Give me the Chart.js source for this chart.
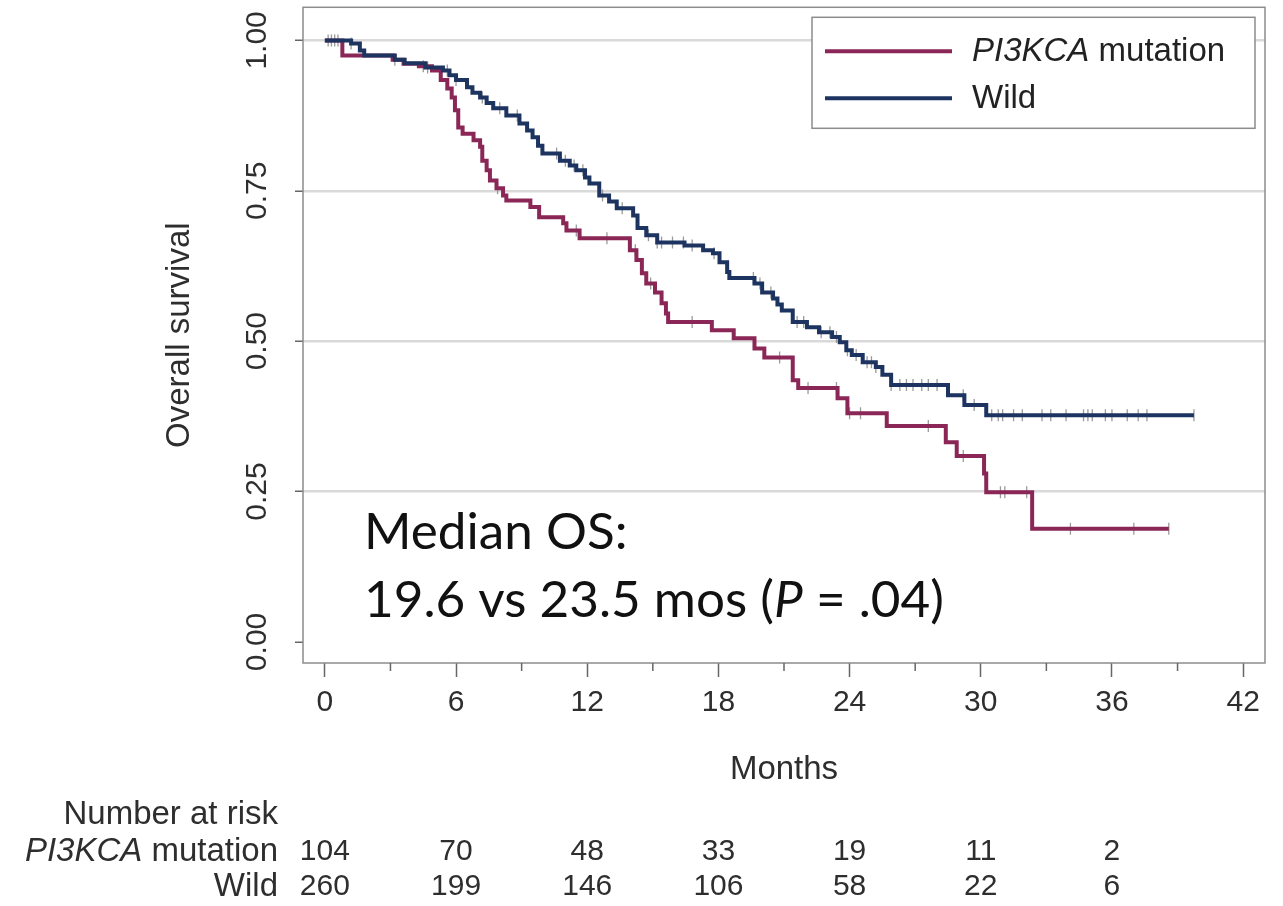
<!DOCTYPE html>
<html>
<head>
<meta charset="utf-8">
<script src="https://cdn.jsdelivr.net/npm/chart.js@4.4.1/dist/chart.umd.min.js"></script>
<style>
  html, body { margin: 0; padding: 0; background: #ffffff; }
  canvas { display: block; }
</style>
</head>
<body>
<canvas id="km" width="1283" height="906"></canvas>
<script>
// ---------------- data ----------------
const seriesNames = ['PI3KCA mutation', 'Wild'];

const xTickValues = [0, 6, 12, 18, 24, 30, 36, 42];
const xMinorTickValues = [3, 9, 15, 21, 27, 33, 39];
const yTickValues = [0, 0.25, 0.5, 0.75, 1];
const yTickLabels = ['0.00', '0.25', '0.50', '0.75', '1.00'];

// Kaplan-Meier steps (time in months, survival after the step)
const mutTime = [0, 0.8, 3.1, 3.6, 4.3, 4.9, 5.3, 5.6, 5.8, 5.95, 6.1, 6.3, 6.8, 7.1, 7.2, 7.4, 7.55, 7.85, 8.15, 8.3, 9.4, 9.8, 10.9, 11.05, 11.65, 13.95, 14.25, 14.5, 14.7, 15.1, 15.4, 15.6, 15.7, 17.7, 18.7, 19.65, 20.1, 21.4, 21.65, 23.45, 23.9, 25.7, 28.4, 28.9, 30.15, 30.25, 32.35, 38.6];
const mutSurv = [1.0, 0.975, 0.968, 0.961, 0.957, 0.95, 0.934, 0.92, 0.905, 0.884, 0.855, 0.845, 0.834, 0.823, 0.80, 0.784, 0.767, 0.754, 0.742, 0.734, 0.723, 0.706, 0.696, 0.684, 0.671, 0.651, 0.635, 0.613, 0.596, 0.581, 0.563, 0.546, 0.532, 0.518, 0.505, 0.488, 0.473, 0.435, 0.422, 0.405, 0.380, 0.359, 0.332, 0.309, 0.28, 0.249, 0.188, 0.188];
const mutCensor = [0.3, 3.2, 4.5, 7.9, 11.5, 12.9, 14.2, 14.9, 16.8, 20.8, 22.1, 23.4, 24.0, 24.5, 27.6, 29.2, 30.2, 30.9, 31.1, 32.1, 34.1, 37.0, 38.6];

const wildTime = [0, 1.2, 1.6, 1.8, 3.2, 3.65, 4.6, 5.4, 5.7, 6.0, 6.5, 6.75, 7.1, 7.4, 7.7, 8.3, 8.9, 9.25, 9.5, 9.75, 9.95, 10.75, 11.2, 11.5, 11.9, 12.1, 12.55, 13.0, 13.35, 14.1, 14.3, 14.7, 15.2, 16.45, 17.3, 17.75, 18.05, 18.4, 18.5, 19.65, 20.0, 20.5, 20.7, 20.9, 21.4, 22.05, 22.6, 23.2, 23.55, 23.85, 24.1, 24.6, 25.2, 25.5, 25.9, 28.5, 29.25, 30.25, 39.75];
const wildSurv = [1.0, 0.995, 0.983, 0.975, 0.968, 0.962, 0.955, 0.95, 0.942, 0.934, 0.922, 0.913, 0.905, 0.896, 0.887, 0.875, 0.862, 0.85, 0.839, 0.825, 0.812, 0.80, 0.792, 0.784, 0.772, 0.762, 0.742, 0.732, 0.721, 0.709, 0.688, 0.676, 0.664, 0.659, 0.651, 0.646, 0.631, 0.615, 0.605, 0.596, 0.581, 0.571, 0.561, 0.551, 0.532, 0.523, 0.515, 0.507, 0.498, 0.485, 0.477, 0.465, 0.457, 0.444, 0.427, 0.41, 0.394, 0.377, 0.377];
const wildCensor = [0.15, 0.45, 0.6, 1.2, 4.7, 5.6, 6.0, 7.2, 8.0, 8.8, 10.6, 11.0, 11.4, 11.8, 12.7, 13.6, 14.8, 15.2, 15.4, 15.9, 16.4, 16.8, 17.8, 19.6, 19.9, 20.4, 21.6, 21.9, 22.7, 23.1, 23.4, 23.9, 24.3, 24.8, 25.0, 25.2, 25.9, 26.3, 26.6, 26.9, 27.3, 27.6, 28.0, 29.2, 29.7, 30.5, 30.8, 31.0, 31.5, 31.9, 32.8, 33.2, 33.9, 34.7, 34.9, 35.1, 35.7, 36.0, 36.7, 37.2, 37.6, 39.75];

// Number at risk table
const riskTimes = [0, 6, 12, 18, 24, 30, 36];
const riskMut = [104, 70, 48, 33, 19, 11, 2];
const riskWild = [260, 199, 146, 106, 58, 22, 6];

const annotationLine1 = 'Median OS:';
const annotationLine2 = ['19.6 vs 23.5 mos (', 'P', ' = .04)'];

// ---------------- style ----------------
const MAROON = '#8a2756';
const NAVY = '#1d3461';
const CENSOR = '#9a9a9a';
const FRAME = '#8c8c8c';
const TEXT = '#2e2e2e';
const SANS = '"Liberation Sans", Arial, Helvetica, sans-serif';
const ANN_FONT = 'Lato, "Open Sans", sans-serif';

// ---------------- helpers ----------------
function toPoints(times, surv) {
  return times.map((t, i) => ({ x: t, y: surv[i] }));
}
function survAt(times, surv, t) {
  let v = surv[0];
  for (let i = 0; i < times.length; i++) { if (times[i] <= t) v = surv[i]; }
  return v;
}
function censorPoints(cens, times, surv) {
  return cens.map(t => ({ x: t, y: survAt(times, surv, t) }));
}

// ---------------- decorations plugin ----------------
const decor = {
  id: 'decor',
  beforeDraw(chart) {
    const c = chart.ctx;
    c.save();
    c.fillStyle = '#ffffff';
    c.fillRect(0, 0, chart.width, chart.height);
    c.restore();
  },
  afterDraw(chart) {
    const { ctx, chartArea: a, scales: { x } } = chart;
    ctx.save();

    // plot frame
    ctx.strokeStyle = FRAME;
    ctx.lineWidth = 1.5;
    ctx.strokeRect(a.left, a.top, a.right - a.left, a.bottom - a.top);

    // minor x ticks
    ctx.strokeStyle = '#666';
    ctx.lineWidth = 1.5;
    xMinorTickValues.forEach(v => {
      const px = x.getPixelForValue(v);
      ctx.beginPath();
      ctx.moveTo(px, a.bottom);
      ctx.lineTo(px, a.bottom + 8);
      ctx.stroke();
    });

    // legend box
    const bw = 443, bh = 111;
    const bx = a.right - 10 - bw, by = a.top + 10;
    ctx.fillStyle = '#ffffff';
    ctx.fillRect(bx, by, bw, bh);
    ctx.strokeStyle = FRAME;
    ctx.lineWidth = 1.5;
    ctx.strokeRect(bx, by, bw, bh);
    const rows = [{ color: MAROON, y: by + 34 }, { color: NAVY, y: by + 81 }];
    rows.forEach(r => {
      ctx.strokeStyle = r.color;
      ctx.lineWidth = 4;
      ctx.beginPath();
      ctx.moveTo(bx + 13, r.y);
      ctx.lineTo(bx + 140, r.y);
      ctx.stroke();
    });
    ctx.fillStyle = '#222';
    ctx.textBaseline = 'middle';
    ctx.textAlign = 'left';
    const tx = bx + 160;
    ctx.font = `italic 33px ${SANS}`;
    ctx.fillText('PI3KCA', tx, rows[0].y + 1);
    const wI = ctx.measureText('PI3KCA').width;
    ctx.font = `33px ${SANS}`;
    ctx.fillText(' mutation', tx + wI, rows[0].y + 1);
    ctx.fillText(seriesNames[1], tx, rows[1].y + 1);

    // annotation
    ctx.fillStyle = '#111';
    ctx.textBaseline = 'alphabetic';
    ctx.textAlign = 'left';
    const measure = (size) => {
      ctx.font = `${size}px ${ANN_FONT}`;
      const w0 = ctx.measureText(annotationLine2[0]).width;
      const w2 = ctx.measureText(annotationLine2[2]).width;
      ctx.font = `italic ${size}px ${ANN_FONT}`;
      const w1 = ctx.measureText(annotationLine2[1]).width;
      return [w0, w1, w2];
    };
    const m100 = measure(100);
    const size = 100 * 580 / (m100[0] + m100[1] + m100[2]);
    const [w0, w1] = measure(size);
    const ax = 364;
    ctx.font = `${size}px ${ANN_FONT}`;
    ctx.fillText(annotationLine1, ax, 549);
    ctx.fillText(annotationLine2[0], ax, 617);
    ctx.font = `italic ${size}px ${ANN_FONT}`;
    ctx.fillText(annotationLine2[1], ax + w0, 617);
    ctx.font = `${size}px ${ANN_FONT}`;
    ctx.fillText(annotationLine2[2], ax + w0 + w1, 617);

    // number at risk table
    ctx.fillStyle = TEXT;
    ctx.textBaseline = 'middle';
    ctx.textAlign = 'right';
    const labRight = 278;
    const rowY = [852, 887];
    ctx.font = `33px ${SANS}`;
    ctx.fillText('Number at risk', labRight, 815);
    const wm = ctx.measureText(' mutation').width;
    ctx.fillText(' mutation', labRight, rowY[0]);
    ctx.font = `italic 33px ${SANS}`;
    ctx.fillText('PI3KCA', labRight - wm, rowY[0]);
    ctx.font = `33px ${SANS}`;
    ctx.fillText(seriesNames[1], labRight, rowY[1]);
    ctx.textAlign = 'center';
    ctx.font = `30px ${SANS}`;
    riskTimes.forEach((t, i) => {
      const px = x.getPixelForValue(t);
      ctx.fillText(String(riskMut[i]), px, rowY[0]);
      ctx.fillText(String(riskWild[i]), px, rowY[1]);
    });

    ctx.restore();
  }
};

// ---------------- chart ----------------
new Chart(document.getElementById('km'), {
  type: 'line',
  data: {
    datasets: [
      {
        label: seriesNames[0],
        data: toPoints(mutTime, mutSurv),
        borderColor: MAROON,
        borderWidth: 4,
        stepped: 'before',
        pointRadius: 0,
        fill: false,
        order: 1
      },
      {
        label: seriesNames[1],
        data: toPoints(wildTime, wildSurv),
        borderColor: NAVY,
        borderWidth: 4,
        stepped: 'before',
        pointRadius: 0,
        fill: false,
        order: 0
      },
      {
        type: 'scatter',
        label: 'censored (mutation)',
        data: censorPoints(mutCensor, mutTime, mutSurv),
        pointStyle: 'line',
        pointRotation: 90,
        pointRadius: 6,
        pointBorderColor: CENSOR,
        pointBorderWidth: 1.3,
        showLine: false,
        order: 2
      },
      {
        type: 'scatter',
        label: 'censored (wild)',
        data: censorPoints(wildCensor, wildTime, wildSurv),
        pointStyle: 'line',
        pointRotation: 90,
        pointRadius: 6,
        pointBorderColor: CENSOR,
        pointBorderWidth: 1.3,
        showLine: false,
        order: 2
      }
    ]
  },
  options: {
    responsive: false,
    animation: false,
    events: [],
    layout: { padding: { top: 7, right: 18, left: 0, bottom: 0 } },
    plugins: {
      legend: { display: false },
      tooltip: { enabled: false },
      title: { display: false }
    },
    scales: {
      x: {
        type: 'linear',
        min: -1,
        max: 43,
        afterBuildTicks: s => { s.ticks = xTickValues.map(v => ({ value: v })); },
        afterFit: s => { s.height = 243; s.paddingLeft = 0; s.paddingRight = 0; },
        border: { display: false },
        grid: { drawOnChartArea: false, drawTicks: true, tickLength: 14, tickColor: '#666', tickWidth: 1.5 },
        ticks: {
          autoSkip: false, maxRotation: 0, minRotation: 0, padding: 8,
          color: TEXT, font: { family: SANS, size: 30 },
          callback: v => String(v)
        },
        title: {
          display: true, text: 'Months', color: TEXT,
          font: { family: SANS, size: 33 },
          padding: { top: 0, bottom: 116 }
        }
      },
      y: {
        type: 'linear',
        min: -0.035,
        max: 1.055,
        afterBuildTicks: s => { s.ticks = yTickValues.map(v => ({ value: v })); },
        afterFit: s => { s.width = 303; s.paddingTop = 0; s.paddingBottom = 0; },
        border: { display: false },
        grid: {
          drawOnChartArea: true, drawTicks: true, tickLength: 8,
          color: c => (c.tick && c.tick.value > 0) ? '#d9d9d9' : 'rgba(0,0,0,0)',
          lineWidth: 2.5,
          tickColor: '#666', tickWidth: 1.5
        },
        ticks: {
          minRotation: 90, maxRotation: 90, crossAlign: 'center', padding: 8,
          color: TEXT, font: { family: SANS, size: 30 },
          callback: v => yTickLabels[yTickValues.indexOf(v)] ?? ''
        },
        title: {
          display: true, text: 'Overall survival', color: TEXT,
          font: { family: SANS, size: 33 },
          padding: { top: 160, bottom: 0 }
        }
      }
    }
  },
  plugins: [decor]
});
</script>
</body>
</html>
